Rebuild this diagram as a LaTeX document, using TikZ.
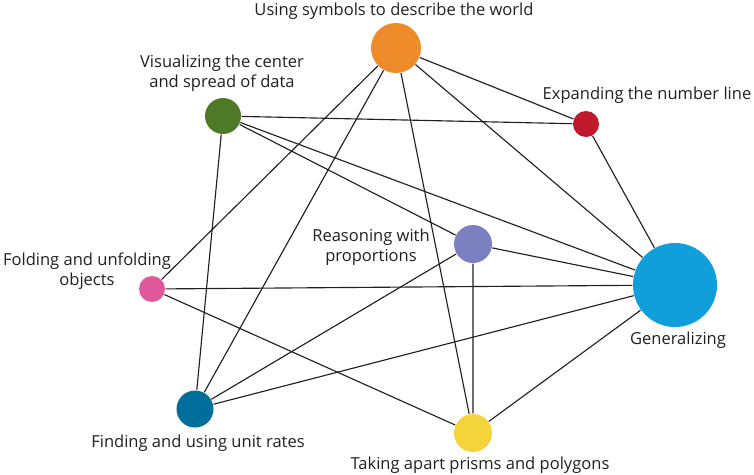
\documentclass[tikz,border=0pt]{standalone}
\usepackage{fontspec}
\setmainfont{Open Sans}
\definecolor{symcol}{HTML}{EE8B2A}
\definecolor{datacol}{HTML}{4E7A27}
\definecolor{numcol}{HTML}{C0192B}
\definecolor{propcol}{HTML}{7B80C0}
\definecolor{gencol}{HTML}{109FDA}
\definecolor{foldcol}{HTML}{E0589A}
\definecolor{ratecol}{HTML}{006E9A}
\definecolor{prismcol}{HTML}{F5D33A}
\definecolor{edgecol}{HTML}{231F20}
\begin{document}
\begin{tikzpicture}[x=0.75pt,y=-0.75pt,line width=0.85pt,
  topic/.style={circle,inner sep=0pt,draw=none},
  every node/.style={font=\fontsize{12.4}{15}\selectfont,text=edgecol}]
 \path[use as bounding box] (0,0) rectangle (754,475);
 % circles, sized by how many links each topic has
 \node[topic,fill=symcol,minimum size=37.5pt] (sym) at (396,48) {};
 \node[topic,fill=datacol,minimum size=27pt] (data) at (223,116) {};
 \node[topic,fill=numcol,minimum size=19.5pt] (numl) at (586,124) {};
 \node[topic,fill=propcol,minimum size=28.5pt] (prop) at (473,244) {};
 \node[topic,fill=gencol,minimum size=63pt] (gen) at (675,285) {};
 \node[topic,fill=foldcol,minimum size=19.5pt] (fold) at (152,289) {};
 \node[topic,fill=ratecol,minimum size=27.75pt] (rate) at (195,409) {};
 \node[topic,fill=prismcol,minimum size=28.5pt] (prism) at (473,433) {};
 % labels
 \node (symlab) at (394,11) {Using symbols to describe the world};
 \node[align=center] (datalab) at (222,73) {Visualizing the center\\and spread of data};
 \node (numlab) at (647,95) {Expanding the number line};
 \node[align=center] (proplab) at (371,247) {Reasoning with\\proportions};
 \node (genlab) at (678,340) {Generalizing};
 \node[align=center] (foldlab) at (87,271) {Folding and unfolding\\objects};
 \node (ratelab) at (198,443) {Finding and using unit rates};
 \node (prismlab) at (480,465) {Taking apart prisms and polygons};
 % links
 \draw[edgecol] (sym) -- (numl) (sym) -- (gen) (sym) -- (prism)
   (sym) -- (rate) (sym) -- (fold);
 \draw[edgecol] (data) -- (numl) (data) -- (rate) (data) -- (prop)
   (data) -- (gen);
 \draw[edgecol] (numl) -- (gen) (fold) -- (gen) (fold) -- (prism);
 \draw[edgecol] (rate) -- (prop) (rate) -- (gen);
 \draw[edgecol] (prop) -- (gen) (prop) -- (prism) (prism) -- (gen);
\end{tikzpicture}
\end{document}
